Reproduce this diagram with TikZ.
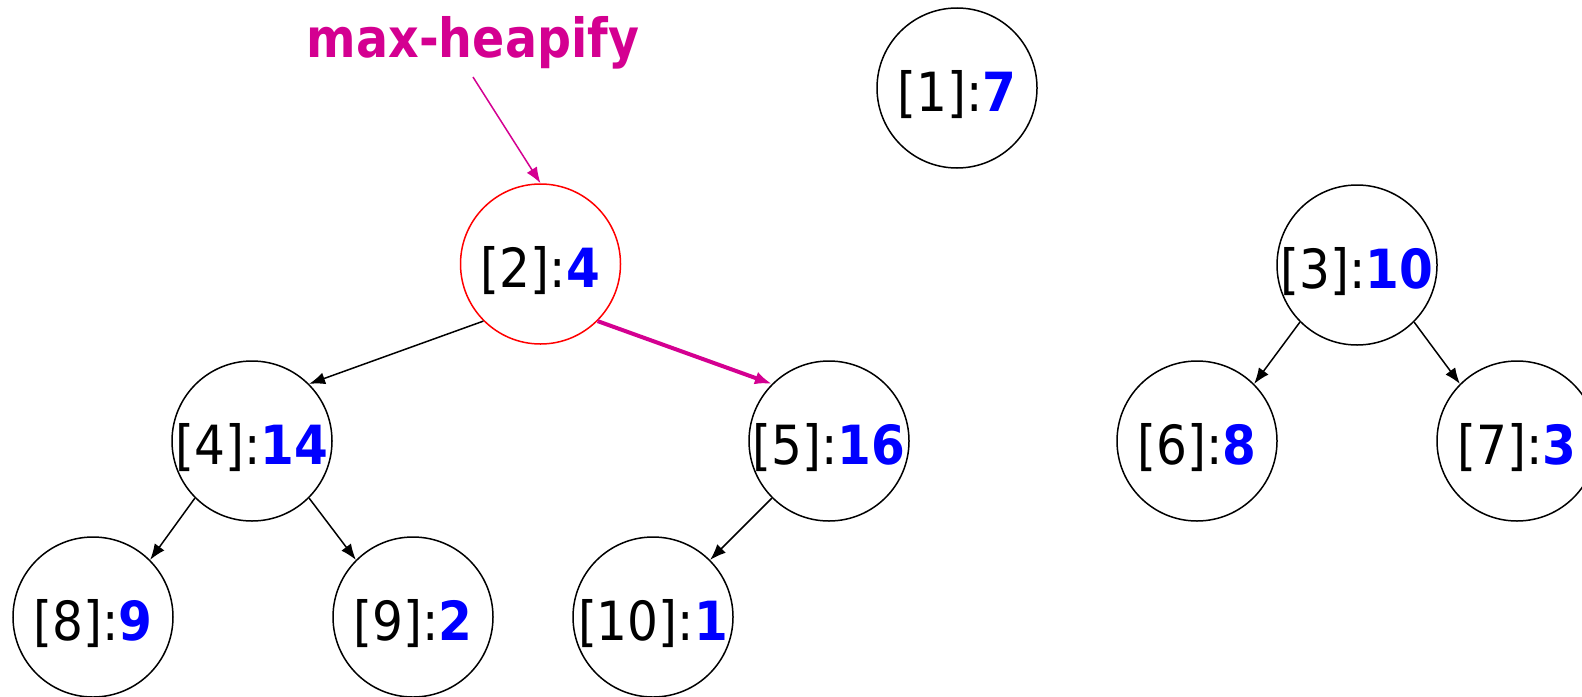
\documentclass[tikz,border=0pt]{standalone}
\usepackage{fontspec}
\setmainfont{DejaVu Sans}[FakeStretch=0.9]
\newfontfamily\titlefont{DejaVu Sans}[FakeStretch=0.88]
\usetikzlibrary{arrows.meta}
\definecolor{hmag}{RGB}{212,0,145}
\definecolor{hblue}{RGB}{0,0,255}
\newcommand\hv[2]{\raisebox{-3.5pt}[\height][\depth]{[#1]:\textbf{\textcolor{hblue}{#2}}}}
\tikzset{
  vertex/.style={circle,draw=black,line width=0.75pt,minimum size=80pt,inner sep=0pt,
    font=\fontsize{27}{32}\selectfont},
  redvertex/.style={vertex,draw=red},
  edgearrow/.style={draw=black,line width=0.75pt,-{Latex[length=8pt,width=6pt]}},
  hotarrow/.style={draw=hmag,line width=2pt,-{Latex[length=8.5pt,width=6.5pt]}},
  pointer/.style={draw=hmag,line width=0.75pt,-{Latex[length=8pt,width=6pt]}},
  title/.style={text=hmag,font=\titlefont\fontsize{27}{32}\selectfont\bfseries,inner sep=4pt}
}
\begin{document}
\begin{tikzpicture}[x=0.5pt,y=-0.5pt]
\clip (0,0) rectangle (1582,696);
\fill[white] (0,0) rectangle (1582,696);

\node[vertex] (n1) at (957,88) {\hv{1}{7}};
\node[redvertex] (n2) at (540.5,264) {\hv{2}{4}};
\node[vertex] (n3) at (1357,265) {\hv{3}{10}};
\node[vertex] (n4) at (252,441) {\hv{4}{14}};
\node[vertex] (n5) at (829,441) {\hv{5}{16}};
\node[vertex] (n6) at (1197,441) {\hv{6}{8}};
\node[vertex] (n7) at (1517,441) {\hv{7}{3}};
\node[vertex] (n8) at (93,617) {\hv{8}{9}};
\node[vertex] (n9) at (413,617) {\hv{9}{2}};
\node[vertex] (n10) at (653,617) {\hv{10}{1}};

\node[title,anchor=base] (lab) at (473,57) {max-heapify};

\draw[pointer] (lab.south) -- (n2.north);
\draw[edgearrow] (n2.-135) -- (n4.45);
\draw[hotarrow] (n2.-45) -- (n5.135);
\draw[edgearrow] (n4.-135) -- (n8.45);
\draw[edgearrow] (n4.-45) -- (n9.135);
\draw[edgearrow] (n5.-135) -- (n10.45);
\draw[edgearrow] (n3.-135) -- (n6.45);
\draw[edgearrow] (n3.-45) -- (n7.135);
\end{tikzpicture}
\end{document}
